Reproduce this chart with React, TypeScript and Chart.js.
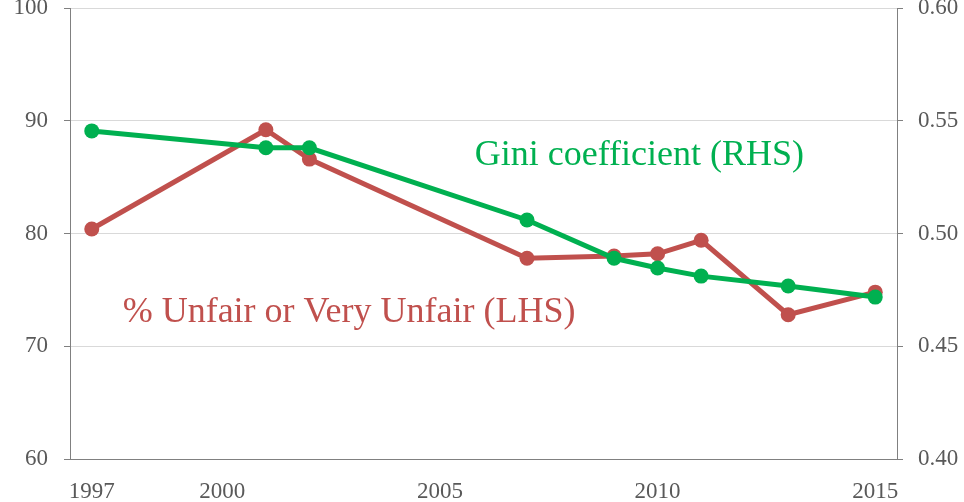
import React, { useEffect, useRef } from "react";
import { Chart, registerables } from "chart.js";

Chart.register(...registerables);

const YEARS = [1997, 2001, 2002, 2007, 2009, 2010, 2011, 2013, 2015];
const UNFAIR = [80.4, 89.2, 86.6, 77.8, 78.0, 78.2, 79.4, 72.8, 74.8];
const GINI = [0.5455, 0.538, 0.538, 0.506, 0.489, 0.4847, 0.4811, 0.4767, 0.4718];
const X_TICKS = [1997, 2000, 2005, 2010, 2015];

const RED = "#C0504D";
const GREEN = "#00B050";
const FONT = "'Liberation Serif', 'DejaVu Serif', serif";

const LABELS = [
  { text: "Gini coefficient (RHS)", x: 2005.8, y: 0.5304, axis: "y1", color: GREEN },
  { text: "% Unfair or Very Unfair (LHS)", x: 1997.71, y: 72.15, axis: "y", color: RED },
];

const labelPlugin = {
  id: "seriesLabels",
  afterDraw(chart: any) {
    const ctx = chart.ctx;
    ctx.save();
    ctx.font = `36px ${FONT}`;
    ctx.textAlign = "left";
    ctx.textBaseline = "alphabetic";
    for (const l of LABELS) {
      ctx.fillStyle = l.color;
      const px = chart.scales.x.getPixelForValue(l.x);
      const py = chart.scales[l.axis].getPixelForValue(l.y);
      ctx.fillText(l.text, px, py);
    }
    ctx.restore();
  },
};

export default function App() {
  const ref = useRef<HTMLCanvasElement>(null);
  useEffect(() => {
    const chart = new Chart(ref.current!, {
      type: "line",
      data: {
        datasets: [
          {
            label: "Gini coefficient (RHS)",
            data: YEARS.map((x, i) => ({ x, y: GINI[i] })),
            borderColor: GREEN,
            backgroundColor: GREEN,
            borderWidth: 5,
            pointRadius: 7.5,
            pointBorderWidth: 0,
            yAxisID: "y1",
            order: 0,
          },
          {
            label: "% Unfair or Very Unfair (LHS)",
            data: YEARS.map((x, i) => ({ x, y: UNFAIR[i] })),
            borderColor: RED,
            backgroundColor: RED,
            borderWidth: 5,
            pointRadius: 7.5,
            pointBorderWidth: 0,
            yAxisID: "y",
            order: 1,
          },
        ],
      },
      options: {
        animation: false,
        responsive: true,
        maintainAspectRatio: false,
        layout: { padding: { top: 8, left: 0, right: 0, bottom: 0 } },
        plugins: { legend: { display: false }, tooltip: { enabled: false } },
        scales: {
          x: {
            type: "linear",
            min: 1996.5,
            max: 2015.5,
            afterBuildTicks: (s: any) => {
              s.ticks = X_TICKS.map((v) => ({ value: v }));
            },
            afterFit: (s: any) => {
              s.height = 43;
              s.paddingLeft = 0;
              s.paddingRight = 0;
            },
            grid: { display: false, drawTicks: false },
            border: { display: true, color: "#808080", width: 1 },
            ticks: {
              padding: 19,
              color: "#595959",
              font: { family: FONT, size: 23 },
              maxRotation: 0,
              autoSkip: false,
              callback: (v: any) => String(v),
            },
          },
          y: {
            position: "left",
            min: 60,
            max: 100,
            afterFit: (s: any) => {
              s.width = 70;
              s.paddingTop = 0;
              s.paddingBottom = 0;
            },
            grid: { color: "#D9D9D9", lineWidth: 1, tickColor: "#808080", tickLength: 6 },
            border: { display: true, color: "#808080", width: 1 },
            ticks: {
              stepSize: 10,
              padding: 16,
              color: "#595959",
              font: { family: FONT, size: 23 },
            },
          },
          y1: {
            position: "right",
            min: 0.4,
            max: 0.6,
            afterFit: (s: any) => {
              s.width = 67;
              s.paddingTop = 0;
              s.paddingBottom = 0;
            },
            grid: { drawOnChartArea: false, tickColor: "#808080", tickLength: 6 },
            border: { display: true, color: "#808080", width: 1 },
            ticks: {
              stepSize: 0.05,
              padding: 15,
              color: "#595959",
              font: { family: FONT, size: 23 },
              callback: (v: any) => Number(v).toFixed(2),
            },
          },
        },
      },
      plugins: [labelPlugin],
    });
    return () => chart.destroy();
  }, []);
  return (
    <div style={{ position: "absolute", left: 0, top: 0, width: 964, height: 502, background: "#fff" }}>
      <canvas ref={ref} />
    </div>
  );
}
